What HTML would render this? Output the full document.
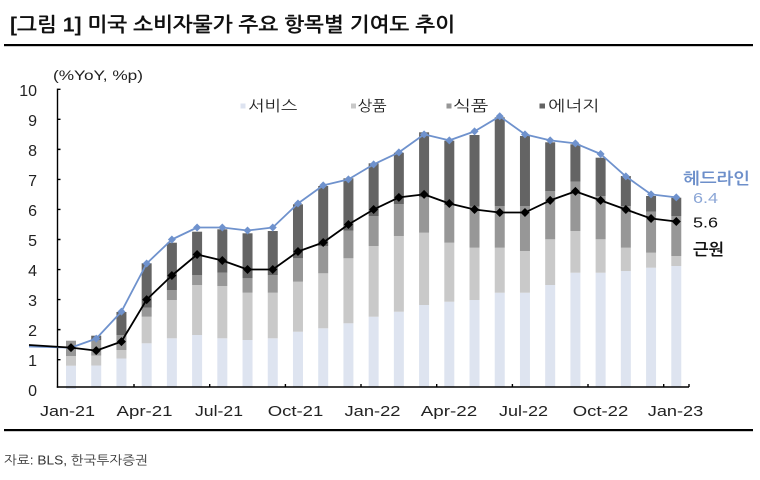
<!DOCTYPE html>
<html><head><meta charset="utf-8">
<style>
html,body{margin:0;padding:0;background:#fff;}
svg{display:block;}
text{font-family:"Liberation Sans","NanumGothic","Noto Sans CJK KR",sans-serif;}
.k{font-family:"Liberation Sans","NanumGothic","Noto Sans CJK KR",sans-serif;}
</style></head>
<body>
<svg width="760" height="480" viewBox="0 0 760 480" xmlns="http://www.w3.org/2000/svg">
<rect width="760" height="480" fill="#fff"/>
<!-- title -->
<text x="10" y="31.5" font-size="20" font-weight="bold" fill="#111" textLength="445" lengthAdjust="spacingAndGlyphs">[그림 1] 미국 소비자물가 주요 항목별 기여도 추이</text>
<rect x="4" y="44" width="749" height="2.2" fill="#000"/>

<!-- unit -->
<text x="53" y="80" font-size="14" fill="#222" textLength="90" lengthAdjust="spacingAndGlyphs">(%YoY, %p)</text>

<!-- y labels -->
<g font-size="16" fill="#222" text-anchor="end">
<text x="37" y="396.2">0</text>
<text x="37" y="366.2">1</text>
<text x="37" y="336.1">2</text>
<text x="37" y="306.1">3</text>
<text x="37" y="276">4</text>
<text x="37" y="246">5</text>
<text x="37" y="216">6</text>
<text x="37" y="185.9">7</text>
<text x="37" y="155.9">8</text>
<text x="37" y="125.8">9</text>
<text x="37" y="95.8">10</text>
</g>

<!-- legend -->
<rect x="240.5" y="103.5" width="5" height="5" fill="#dde3f0"/>
<text x="248.3" y="111" font-size="15" fill="#222" textLength="49" lengthAdjust="spacingAndGlyphs">서비스</text>
<rect x="351" y="103.5" width="5" height="5" fill="#c8c8c8"/>
<text x="357.7" y="111" font-size="15" fill="#222" textLength="29" lengthAdjust="spacingAndGlyphs">상품</text>
<rect x="446.5" y="103.5" width="5" height="5" fill="#969696"/>
<text x="453.3" y="111" font-size="15" fill="#222" textLength="35" lengthAdjust="spacingAndGlyphs">식품</text>
<rect x="539.5" y="103.5" width="5.5" height="5" fill="#636363"/>
<text x="548.3" y="111" font-size="15" fill="#222" textLength="51" lengthAdjust="spacingAndGlyphs">에너지</text>

<!-- bars -->
<g>
<!-- services -->
<g fill="#dee4f0">
<rect x="66" y="365.7" width="10" height="23.3"/>
<rect x="91.22" y="365.5" width="10" height="21.5"/>
<rect x="116.44" y="358.5" width="10" height="28.5"/>
<rect x="141.66" y="343.3" width="10" height="43.7"/>
<rect x="166.88" y="338.3" width="10" height="48.7"/>
<rect x="192.1" y="335" width="10" height="52"/>
<rect x="217.32" y="338.3" width="10" height="48.7"/>
<rect x="242.54" y="340" width="10" height="47"/>
<rect x="267.76" y="338.3" width="10" height="48.7"/>
<rect x="292.98" y="331.7" width="10" height="55.3"/>
<rect x="318.2" y="328.3" width="10" height="58.7"/>
<rect x="343.42" y="323.3" width="10" height="63.7"/>
<rect x="368.64" y="316.7" width="10" height="70.3"/>
<rect x="393.86" y="311.7" width="10" height="75.3"/>
<rect x="419.08" y="305" width="10" height="82"/>
<rect x="444.3" y="301.7" width="10" height="85.3"/>
<rect x="469.52" y="300" width="10" height="87"/>
<rect x="494.74" y="292.7" width="10" height="94.3"/>
<rect x="519.96" y="292.7" width="10" height="94.3"/>
<rect x="545.18" y="285" width="10" height="102"/>
<rect x="570.4" y="272.7" width="10" height="114.3"/>
<rect x="595.62" y="272.7" width="10" height="114.3"/>
<rect x="620.84" y="271" width="10" height="116"/>
<rect x="646.06" y="267.7" width="10" height="119.3"/>
<rect x="671.28" y="266" width="10" height="121"/>
</g>
<!-- goods -->
<g fill="#c9c9c9">
<rect x="66" y="356" width="10" height="9.7"/>
<rect x="91.22" y="355.5" width="10" height="10"/>
<rect x="116.44" y="350" width="10" height="8.5"/>
<rect x="141.66" y="316.7" width="10" height="26.6"/>
<rect x="166.88" y="300" width="10" height="38.3"/>
<rect x="192.1" y="285" width="10" height="50"/>
<rect x="217.32" y="286" width="10" height="52.3"/>
<rect x="242.54" y="292.7" width="10" height="47.3"/>
<rect x="267.76" y="292.7" width="10" height="45.6"/>
<rect x="292.98" y="281.7" width="10" height="50"/>
<rect x="318.2" y="273.3" width="10" height="55"/>
<rect x="343.42" y="258.3" width="10" height="65"/>
<rect x="368.64" y="246" width="10" height="70.7"/>
<rect x="393.86" y="236" width="10" height="75.7"/>
<rect x="419.08" y="232.7" width="10" height="72.3"/>
<rect x="444.3" y="242.7" width="10" height="59"/>
<rect x="469.52" y="247.7" width="10" height="52.3"/>
<rect x="494.74" y="247.7" width="10" height="45"/>
<rect x="519.96" y="251" width="10" height="41.7"/>
<rect x="545.18" y="239.3" width="10" height="45.7"/>
<rect x="570.4" y="231" width="10" height="41.7"/>
<rect x="595.62" y="239.3" width="10" height="33.4"/>
<rect x="620.84" y="247.7" width="10" height="23.3"/>
<rect x="646.06" y="252.7" width="10" height="15"/>
<rect x="671.28" y="256" width="10" height="10"/>
</g>
<!-- food -->
<g fill="#979797">
<rect x="66" y="340.7" width="10" height="15.3"/>
<rect x="91.22" y="340" width="10" height="15.5"/>
<rect x="116.44" y="335" width="10" height="15"/>
<rect x="141.66" y="307.7" width="10" height="9"/>
<rect x="166.88" y="290" width="10" height="10"/>
<rect x="192.1" y="275" width="10" height="10"/>
<rect x="217.32" y="272.7" width="10" height="13.3"/>
<rect x="242.54" y="278.3" width="10" height="14.4"/>
<rect x="267.76" y="275" width="10" height="17.7"/>
<rect x="292.98" y="258.3" width="10" height="23.4"/>
<rect x="318.2" y="246" width="10" height="27.3"/>
<rect x="343.42" y="230.7" width="10" height="27.6"/>
<rect x="368.64" y="216" width="10" height="30"/>
<rect x="393.86" y="204" width="10" height="32"/>
<rect x="419.08" y="197.3" width="10" height="35.4"/>
<rect x="444.3" y="205" width="10" height="37.7"/>
<rect x="469.52" y="206.7" width="10" height="41"/>
<rect x="494.74" y="206" width="10" height="41.7"/>
<rect x="519.96" y="206" width="10" height="45"/>
<rect x="545.18" y="191" width="10" height="48.3"/>
<rect x="570.4" y="181.7" width="10" height="49.3"/>
<rect x="595.62" y="196" width="10" height="43.3"/>
<rect x="620.84" y="206" width="10" height="41.7"/>
<rect x="646.06" y="211.7" width="10" height="41"/>
<rect x="671.28" y="216" width="10" height="40"/>
</g>
<!-- energy -->
<g fill="#646464">
<rect x="91.22" y="335.7" width="10" height="4.3"/>
<rect x="116.44" y="312" width="10" height="23"/>
<rect x="141.66" y="263.3" width="10" height="44.4"/>
<rect x="166.88" y="242.7" width="10" height="47.3"/>
<rect x="192.1" y="231.7" width="10" height="43.3"/>
<rect x="217.32" y="229.3" width="10" height="43.4"/>
<rect x="242.54" y="233.3" width="10" height="45"/>
<rect x="267.76" y="231" width="10" height="44"/>
<rect x="292.98" y="204.3" width="10" height="54"/>
<rect x="318.2" y="186" width="10" height="60"/>
<rect x="343.42" y="178.3" width="10" height="52.4"/>
<rect x="368.64" y="163.3" width="10" height="52.7"/>
<rect x="393.86" y="152.7" width="10" height="51.3"/>
<rect x="419.08" y="132.3" width="10" height="65"/>
<rect x="444.3" y="140.7" width="10" height="64.3"/>
<rect x="469.52" y="135" width="10" height="71.7"/>
<rect x="494.74" y="117.3" width="10" height="88.7"/>
<rect x="519.96" y="136" width="10" height="70"/>
<rect x="545.18" y="142.3" width="10" height="48.7"/>
<rect x="570.4" y="144.3" width="10" height="37.4"/>
<rect x="595.62" y="157.7" width="10" height="38.3"/>
<rect x="620.84" y="176" width="10" height="30"/>
<rect x="646.06" y="196" width="10" height="15.7"/>
<rect x="671.28" y="197.7" width="10" height="18.3"/>
</g>
</g>

<!-- axes -->
<g stroke="#000" stroke-width="1.4" fill="none">
<line x1="57.5" y1="88.6" x2="57.5" y2="387.7"/>
<line x1="56.8" y1="387" x2="689" y2="387"/>
<path d="M57.5 89.3h3 M57.5 119.34h3 M57.5 149.38h3 M57.5 179.42h3 M57.5 209.46h3 M57.5 239.5h3 M57.5 269.54h3 M57.5 299.58h3 M57.5 329.62h3 M57.5 359.66h3"/>
<path d="M134 387v-3 M209.7 387v-3 M285.4 387v-3 M361 387v-3 M436.7 387v-3 M512.4 387v-3 M588 387v-3 M663.7 387v-3 M689 387v-3"/>
</g>

<!-- headline line -->
<polyline fill="none" stroke="#6f92cd" stroke-width="1.8" stroke-linejoin="round" points="29,346.5 71,347.6 96.22,338.6 121.44,311.6 146.66,263.5 171.88,239.5 197.1,227.5 222.32,227.5 247.54,230.5 272.76,227.5 297.98,203.5 323.2,185.4 348.42,179.4 373.64,164.4 398.86,152.4 424.08,134.4 449.3,140.4 474.52,131.4 499.74,116.3 524.96,134.4 550.18,140.4 575.4,143.4 600.62,154 625.84,176.4 651.06,194.4 676.28,197.4"/>
<g fill="#6f92cd">
<path d="M71 343.6l4 4-4 4-4-4z"/>
<path d="M96.22 334.6l4 4-4 4-4-4z"/>
<path d="M121.44 307.6l4 4-4 4-4-4z"/>
<path d="M146.66 259.5l4 4-4 4-4-4z"/>
<path d="M171.88 235.5l4 4-4 4-4-4z"/>
<path d="M197.1 223.5l4 4-4 4-4-4z"/>
<path d="M222.32 223.5l4 4-4 4-4-4z"/>
<path d="M247.54 226.5l4 4-4 4-4-4z"/>
<path d="M272.76 223.5l4 4-4 4-4-4z"/>
<path d="M297.98 199.5l4 4-4 4-4-4z"/>
<path d="M323.2 181.4l4 4-4 4-4-4z"/>
<path d="M348.42 175.4l4 4-4 4-4-4z"/>
<path d="M373.64 160.4l4 4-4 4-4-4z"/>
<path d="M398.86 148.4l4 4-4 4-4-4z"/>
<path d="M424.08 130.4l4 4-4 4-4-4z"/>
<path d="M449.3 136.4l4 4-4 4-4-4z"/>
<path d="M474.52 127.4l4 4-4 4-4-4z"/>
<path d="M499.74 112.3l4 4-4 4-4-4z"/>
<path d="M524.96 130.4l4 4-4 4-4-4z"/>
<path d="M550.18 136.4l4 4-4 4-4-4z"/>
<path d="M575.4 139.4l4 4-4 4-4-4z"/>
<path d="M600.62 150l4 4-4 4-4-4z"/>
<path d="M625.84 172.4l4 4-4 4-4-4z"/>
<path d="M651.06 190.4l4 4-4 4-4-4z"/>
<path d="M676.28 193.4l4 4-4 4-4-4z"/>
</g>

<!-- core line -->
<polyline fill="none" stroke="#000" stroke-width="1.8" stroke-linejoin="round" points="29,345 71,347.6 96.22,350.6 121.44,341.6 146.66,299.6 171.88,275.5 197.1,254.5 222.32,260.5 247.54,269.5 272.76,269.5 297.98,251.5 323.2,242.5 348.42,224.5 373.64,209.5 398.86,197.4 424.08,194.4 449.3,203.5 474.52,209.5 499.74,212.5 524.96,212.5 550.18,200.4 575.4,191.4 600.62,200.4 625.84,209.5 651.06,218.5 676.28,221.5"/>
<g fill="#000">
<path d="M71 343.1l4.5 4.5-4.5 4.5-4.5-4.5z"/>
<path d="M96.22 346.1l4.5 4.5-4.5 4.5-4.5-4.5z"/>
<path d="M121.44 337.1l4.5 4.5-4.5 4.5-4.5-4.5z"/>
<path d="M146.66 295.1l4.5 4.5-4.5 4.5-4.5-4.5z"/>
<path d="M171.88 271l4.5 4.5-4.5 4.5-4.5-4.5z"/>
<path d="M197.1 250l4.5 4.5-4.5 4.5-4.5-4.5z"/>
<path d="M222.32 256l4.5 4.5-4.5 4.5-4.5-4.5z"/>
<path d="M247.54 265l4.5 4.5-4.5 4.5-4.5-4.5z"/>
<path d="M272.76 265l4.5 4.5-4.5 4.5-4.5-4.5z"/>
<path d="M297.98 247l4.5 4.5-4.5 4.5-4.5-4.5z"/>
<path d="M323.2 238l4.5 4.5-4.5 4.5-4.5-4.5z"/>
<path d="M348.42 220l4.5 4.5-4.5 4.5-4.5-4.5z"/>
<path d="M373.64 205l4.5 4.5-4.5 4.5-4.5-4.5z"/>
<path d="M398.86 192.9l4.5 4.5-4.5 4.5-4.5-4.5z"/>
<path d="M424.08 189.9l4.5 4.5-4.5 4.5-4.5-4.5z"/>
<path d="M449.3 199l4.5 4.5-4.5 4.5-4.5-4.5z"/>
<path d="M474.52 205l4.5 4.5-4.5 4.5-4.5-4.5z"/>
<path d="M499.74 208l4.5 4.5-4.5 4.5-4.5-4.5z"/>
<path d="M524.96 208l4.5 4.5-4.5 4.5-4.5-4.5z"/>
<path d="M550.18 195.9l4.5 4.5-4.5 4.5-4.5-4.5z"/>
<path d="M575.4 186.9l4.5 4.5-4.5 4.5-4.5-4.5z"/>
<path d="M600.62 195.9l4.5 4.5-4.5 4.5-4.5-4.5z"/>
<path d="M625.84 205l4.5 4.5-4.5 4.5-4.5-4.5z"/>
<path d="M651.06 214l4.5 4.5-4.5 4.5-4.5-4.5z"/>
<path d="M676.28 217l4.5 4.5-4.5 4.5-4.5-4.5z"/>
</g>

<!-- right labels -->
<text x="683" y="184" font-size="16" font-weight="bold" fill="#6d8fca" textLength="67" lengthAdjust="spacingAndGlyphs">헤드라인</text>
<text x="693" y="203" font-size="15" fill="#8ba6d6" textLength="25" lengthAdjust="spacingAndGlyphs">6.4</text>
<text x="693" y="227.5" font-size="15" fill="#111" textLength="25" lengthAdjust="spacingAndGlyphs">5.6</text>
<text x="693" y="255" font-size="16" font-weight="bold" fill="#111" textLength="31" lengthAdjust="spacingAndGlyphs">근원</text>

<!-- x labels -->
<g font-size="15" fill="#222" text-anchor="middle">
<text x="67.5" y="416" textLength="55" lengthAdjust="spacingAndGlyphs">Jan-21</text>
<text x="144.5" y="416" textLength="56" lengthAdjust="spacingAndGlyphs">Apr-21</text>
<text x="219" y="416" textLength="48" lengthAdjust="spacingAndGlyphs">Jul-21</text>
<text x="295.5" y="416" textLength="55.5" lengthAdjust="spacingAndGlyphs">Oct-21</text>
<text x="372.5" y="416" textLength="56" lengthAdjust="spacingAndGlyphs">Jan-22</text>
<text x="449" y="416" textLength="56.5" lengthAdjust="spacingAndGlyphs">Apr-22</text>
<text x="523.5" y="416" textLength="49" lengthAdjust="spacingAndGlyphs">Jul-22</text>
<text x="600.5" y="416" textLength="55.5" lengthAdjust="spacingAndGlyphs">Oct-22</text>
<text x="675.5" y="416" textLength="55.5" lengthAdjust="spacingAndGlyphs">Jan-23</text>
</g>

<!-- footer -->
<rect x="4" y="429" width="749" height="2.2" fill="#000"/>
<text x="4" y="464.5" font-size="12.5" fill="#333" textLength="144" lengthAdjust="spacingAndGlyphs">자료: BLS, 한국투자증권</text>
</svg>
</body></html>
